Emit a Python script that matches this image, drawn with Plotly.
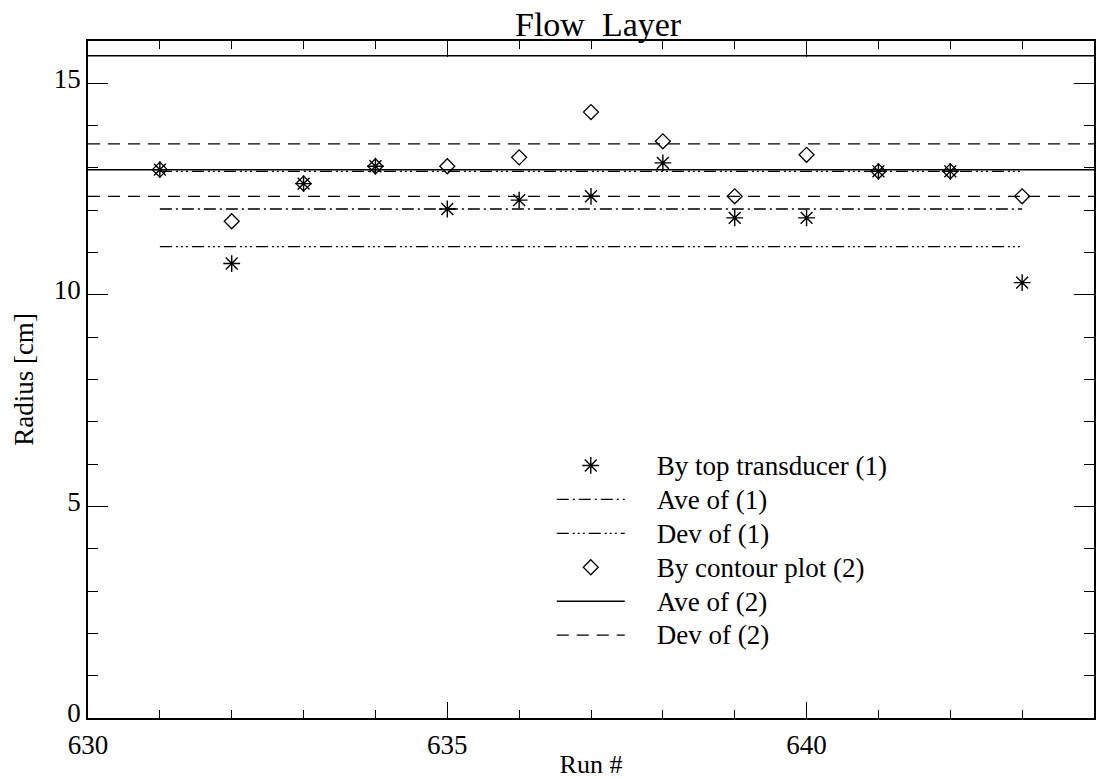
import plotly.graph_objects as go

# ---- data ----
run = [631, 632, 633, 634, 635, 636, 637, 638, 639, 640, 641, 642, 643]
radius_top = [12.96, 10.74, 12.63, 13.04, 12.03, 12.24, 12.33, 13.12, 11.82, 11.82, 12.92, 12.92, 10.29]
radius_contour = [12.96, 11.74, 12.63, 13.04, 13.04, 13.25, 14.32, 13.63, 12.33, 13.31, 12.92, 12.92, 12.33]

ave1 = 12.03
dev1 = [11.14, 12.92]
ave2 = 12.96
dev2 = [12.33, 13.57]
top_line = 15.65

x_range = [630, 644]
y_range = [0, 16]
x_ticks = [630, 635, 640]
y_ticks = [0, 5, 10, 15]

labels = ["By top transducer (1)", "Ave of (1)", "Dev of (1)",
          "By contour plot (2)", "Ave of (2)", "Dev of (2)"]

FONT = "Liberation Serif, Times New Roman, serif"
BLACK = "black"


def legend_name(text):
    # text drawn at 27px while legend rows keep the tighter reference spacing
    return '<span style="font-size:27px">' + "\u00a0" * 4 + text + "</span>"


fig = go.Figure()

span1 = [run[0], run[-1]]
span2 = x_range

fig.add_trace(go.Scatter(
    x=run, y=radius_top, mode="markers", name=legend_name(labels[0]),
    marker=dict(symbol="asterisk-open", size=14, line=dict(color=BLACK, width=1.4), color=BLACK),
))
fig.add_trace(go.Scatter(
    x=span1, y=[ave1, ave1], mode="lines", name=legend_name(labels[1]),
    line=dict(color=BLACK, width=1.3, dash="12px,4px,2px,4px"),
))
for i, d in enumerate(dev1):
    fig.add_trace(go.Scatter(
        x=span1, y=[d, d], mode="lines", name=legend_name(labels[2]), showlegend=(i == 0),
        legendgroup="dev1",
        line=dict(color=BLACK, width=1.3, dash="12px,4px,2px,3px,2px,3px,2px,4px"),
    ))
fig.add_trace(go.Scatter(
    x=run, y=radius_contour, mode="markers", name=legend_name(labels[3]),
    marker=dict(symbol="diamond-open", size=11.5, line=dict(color=BLACK, width=1.3), color=BLACK),
))
fig.add_trace(go.Scatter(
    x=span2, y=[ave2, ave2], mode="lines", name=legend_name(labels[4]),
    line=dict(color=BLACK, width=1.5),
))
for i, d in enumerate(dev2):
    fig.add_trace(go.Scatter(
        x=span2, y=[d, d], mode="lines", name=legend_name(labels[5]), showlegend=(i == 0),
        legendgroup="dev2",
        line=dict(color=BLACK, width=1.3, dash="12px,8px"),
    ))
fig.add_trace(go.Scatter(
    x=span2, y=[top_line, top_line], mode="lines", showlegend=False,
    line=dict(color=BLACK, width=1.5), hoverinfo="skip",
))

fig.update_layout(
    width=1097, height=779,
    margin=dict(l=88, r=1, t=41, b=61),
    paper_bgcolor="white", plot_bgcolor="white",
    font=dict(family=FONT, size=27, color=BLACK),
    showlegend=True,
    legend=dict(
        x=0.461, y=0.4055, xanchor="left", yanchor="top",
        bgcolor="rgba(0,0,0,0)", borderwidth=0,
        font=dict(family=FONT, size=23.8, color=BLACK),
        itemwidth=68, tracegroupgap=0,
    ),
    annotations=[
        dict(text="Flow  Layer", x=0.507, y=1.0, xref="paper", yref="paper",
             xanchor="center", yanchor="middle", yshift=17, showarrow=False,
             font=dict(family=FONT, size=34, color=BLACK)),
    ],
)

fig.update_xaxes(
    range=x_range, tickvals=x_ticks, ticktext=[str(v) for v in x_ticks],
    ticks="inside", ticklen=16, tickwidth=1.2, tickcolor=BLACK,
    minor=dict(dtick=1, ticks="inside", ticklen=8, tickwidth=1, tickcolor=BLACK),
    showline=True, linecolor=BLACK, linewidth=1.5, mirror="allticks",
    showgrid=False, zeroline=False,
    ticklabelstandoff=2,
    title=dict(text="Run #", standoff=0, font=dict(family=FONT, size=26, color=BLACK)),
    tickfont=dict(family=FONT, size=27, color=BLACK),
)
fig.update_yaxes(
    range=y_range, tickvals=y_ticks, ticktext=[str(v) for v in y_ticks],
    ticks="inside", ticklen=20, tickwidth=1.2, tickcolor=BLACK,
    minor=dict(dtick=1, ticks="inside", ticklen=10, tickwidth=1, tickcolor=BLACK),
    showline=True, linecolor=BLACK, linewidth=1.5, mirror="allticks",
    showgrid=False, zeroline=False,
    ticklabelshift=-5,
    title=dict(text="Radius [cm]", standoff=12, font=dict(family=FONT, size=27, color=BLACK)),
    tickfont=dict(family=FONT, size=27, color=BLACK),
)

fig.write_html("out.html")
